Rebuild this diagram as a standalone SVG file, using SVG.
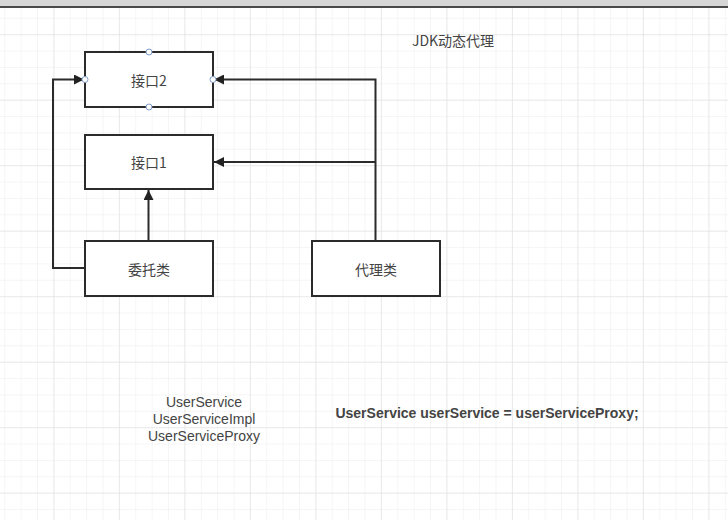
<svg xmlns="http://www.w3.org/2000/svg" width="728" height="520" viewBox="0 0 728 520">
<defs>
<pattern id="minor" x="53.4" y="34.2" width="16.375" height="16.375" patternUnits="userSpaceOnUse">
<path d="M0 0H16.375M0 0V16.375" fill="none" stroke="#ececec" stroke-width="1"/>
</pattern>
<pattern id="major" x="53.4" y="34.2" width="65.5" height="65.5" patternUnits="userSpaceOnUse">
<path d="M0 0H65.5M0 0V65.5" fill="none" stroke="#dedede" stroke-width="1"/>
</pattern>
<marker id="arr" viewBox="0 0 10 10" refX="10" refY="5" markerWidth="11" markerHeight="10" markerUnits="userSpaceOnUse" orient="auto">
<path d="M0 0L10 5L0 10Z" fill="#222"/>
</marker>
</defs>
<style>
.box{fill:#fff;stroke:#2b2b2b;stroke-width:2}
.lbl{font-family:"Noto Sans CJK SC","Liberation Sans",sans-serif;font-size:14px;fill:#444;text-anchor:middle;dominant-baseline:central}
.txt{font-family:"Liberation Sans","Noto Sans CJK SC",sans-serif;font-size:14px;fill:#444;text-anchor:middle;dominant-baseline:central}
.conn{fill:none;stroke:#2b2b2b;stroke-width:2}
.pt{fill:#fff;stroke:#7f9cc8;stroke-width:1}
</style>
<rect width="728" height="520" fill="#fff"/>
<rect width="728" height="520" fill="url(#minor)"/>
<rect width="728" height="520" fill="url(#major)"/>
<rect x="0" y="0" width="728" height="7" fill="#d6d6d6"/>
<rect x="0" y="6" width="728" height="2" fill="#4a4a4a"/>

<g id="connectors">
<path class="conn" d="M148.5 241V190" marker-end="url(#arr)"/>
<path class="conn" d="M85 268H53V79.5H84" marker-end="url(#arr)"/>
<path class="conn" d="M375.5 241V79.5H214" marker-end="url(#arr)"/>
<path class="conn" d="M375.5 162H214" marker-end="url(#arr)"/>
</g>

<g id="iface2">
<rect class="box" x="85" y="52" width="128" height="55"/>
<text class="lbl" x="149" y="79.5">接口2</text>
<circle class="pt" cx="149" cy="52" r="3"/>
<circle class="pt" cx="149" cy="107" r="3"/>
<circle class="pt" cx="85" cy="79.5" r="3"/>
<circle class="pt" cx="213" cy="79.5" r="3"/>
</g>
<g id="iface1">
<rect class="box" x="85" y="135" width="128" height="54"/>
<text class="lbl" x="149" y="162">接口1</text>
</g>
<g id="delegate">
<rect class="box" x="85" y="241" width="128" height="55"/>
<text class="lbl" x="149" y="268.5">委托类</text>
</g>
<g id="proxy">
<rect class="box" x="312" y="241" width="128" height="55"/>
<text class="lbl" x="376" y="268.5">代理类</text>
</g>
<g id="title">
<text class="lbl" x="453" y="40">JDK动态代理</text>
</g>
<g id="names">
<text class="txt" x="204" y="401.5">UserService</text>
<text class="txt" x="204" y="418.5">UserServiceImpl</text>
<text class="txt" x="204" y="435.5">UserServiceProxy</text>
</g>
<g id="code">
<text class="txt" x="487" y="413" style="font-weight:bold">UserService userService = userServiceProxy;</text>
</g>
</svg>
